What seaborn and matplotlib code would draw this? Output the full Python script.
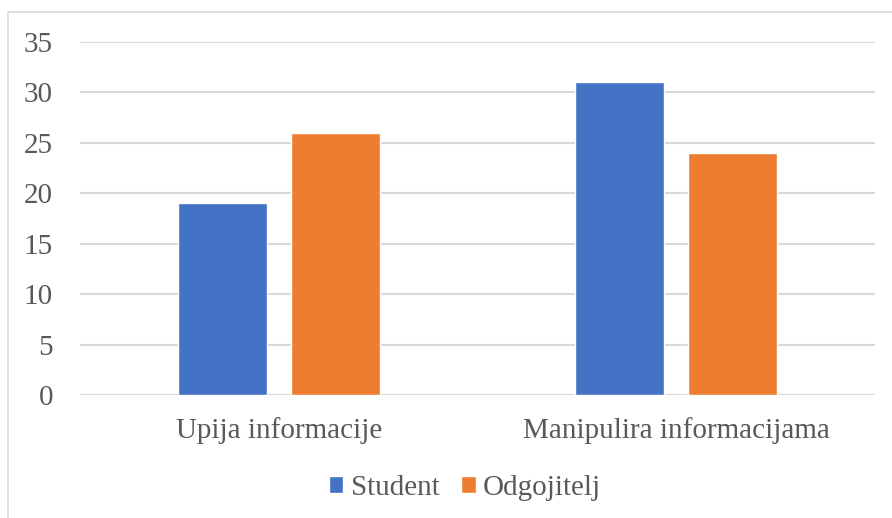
import matplotlib
matplotlib.use("Agg")
import matplotlib.pyplot as plt
from matplotlib.patches import Rectangle
import pandas as pd
import seaborn as sns

categories = ["Upija informacije", "Manipulira informacijama"]
series = ["Student", "Odgojitelj"]
student = [19, 31]
odgojitelj = [26, 24]
yticks = [0, 5, 10, 15, 20, 25, 30, 35]

df = pd.DataFrame({
    "category": categories * 2,
    "group": [series[0]] * 2 + [series[1]] * 2,
    "value": student + odgojitelj,
})

sns.set_theme(style="white")
plt.rcParams["font.family"] = ["Liberation Serif", "DejaVu Serif"]
text_color = "#595959"
grid_color = "#d9d9d9"

fig = plt.figure(figsize=(8.92, 5.18), dpi=100)
ax = fig.add_axes([80 / 892, 1 - 395 / 518, 795 / 892, 353 / 518])

sns.barplot(data=df, x="category", y="value", hue="group",
            palette=["#4472C4", "#ED7D31"], width=0.568, gap=0.211,
            saturation=1, ax=ax, zorder=3)

ax.set_xlim(-0.5, 1.5)
ax.set_ylim(0, 35)
ax.set_yticks(yticks)
for y in yticks:
    ax.axhline(y, color=grid_color, lw=1.5, zorder=1)
for s in ax.spines.values():
    s.set_visible(False)
ax.tick_params(axis="both", length=0, labelsize=21, colors=text_color)
ax.tick_params(axis="y", pad=19.5)
ax.tick_params(axis="x", pad=16)
ax.set_xlabel("")
ax.set_ylabel("")

ax.legend(loc="center", bbox_to_anchor=(465 / 892, 1 - 488 / 518),
          bbox_transform=fig.transFigure, ncol=2, frameon=False,
          fontsize=21, labelcolor=text_color, handlelength=0.5,
          handleheight=0.5, handletextpad=0.25, columnspacing=0.75)

fig.patches.append(Rectangle((8 / 892, -0.1), 1.2, 1.1 - 12 / 518,
                             transform=fig.transFigure, fill=False,
                             edgecolor=grid_color, lw=1.2))

fig.savefig("out.png", dpi=100)
